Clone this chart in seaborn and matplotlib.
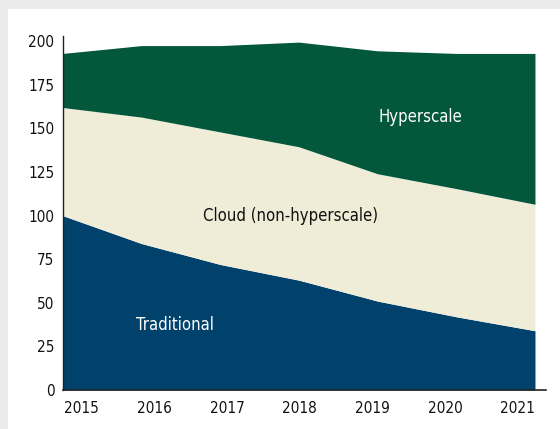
import numpy as np
import pandas as pd
import seaborn as sns
import matplotlib
matplotlib.use("Agg")
import matplotlib.pyplot as plt
from matplotlib.patches import Rectangle
from matplotlib import font_manager

years = [2015, 2016, 2017, 2018, 2019, 2020, 2021]
traditional = [100, 84, 72, 63, 51, 42, 34]
cloud = [62, 72.5, 76, 76.5, 73, 73.5, 72.5]
hyperscale = [31, 41, 49.5, 60, 70.5, 77.5, 86.5]
series_names = ["Traditional", "Cloud (non-hyperscale)", "Hyperscale"]
colors = ["#00426c", "#efedd8", "#03573a"]
yticks = [0, 25, 50, 75, 100, 125, 150, 175, 200]

df = pd.DataFrame({"year": years, "Traditional": traditional,
                   "Cloud (non-hyperscale)": cloud, "Hyperscale": hyperscale})

sns.set_theme(style="white")
plt.rcParams['font.family'] = ['DejaVu Sans']
plt.rcParams['font.stretch'] = 'condensed'

fig = plt.figure(figsize=(5.6, 4.29), dpi=100, facecolor="#ebebeb")
bg = Rectangle((8/560, 0), 1, 1 - 9/429, transform=fig.transFigure,
               facecolor="white", edgecolor="none", zorder=-10)
fig.add_artist(bg)
ax = fig.add_axes([62.7/560, 1 - 390/429, (546 - 62.7)/560, (390 - 36)/429])
ax.set_zorder(5)
ax.set_facecolor("none")

ax.stackplot(df["year"], df["Traditional"], df["Cloud (non-hyperscale)"], df["Hyperscale"],
             colors=colors, linewidth=0)

ax.set_xlim(2015, 2021.14)
ax.set_ylim(0, 203)
ax.set_yticks(yticks)
ax.set_yticklabels([str(v) for v in yticks], fontsize=11, color="#111111", fontstretch="condensed")
xt = np.linspace(2015.24, 2020.78, len(years))
ax.set_xticks(xt)
ax.set_xticklabels([str(y) for y in years], fontsize=11, color="#111111", fontstretch="condensed")
ax.tick_params(axis="both", length=0, pad=6)
ax.tick_params(axis="x", pad=8)

for s in ["top", "right"]:
    ax.spines[s].set_visible(False)
ax.spines["left"].set_color("#222222")
ax.spines["bottom"].set_color("#222222")
ax.spines["left"].set_linewidth(1)
ax.spines["bottom"].set_linewidth(1.2)

kw = dict(fontsize=12, ha="center", va="center", fontstretch="condensed")
ax.text(2019.54, 156.5, "Hyperscale", color="white", **kw)
ax.text(2017.89, 100, "Cloud (non-hyperscale)", color="#111111", **kw)
ax.text(2016.43, 37.4, "Traditional", color="white", **kw)

fig.savefig("out.png", dpi=100, facecolor=fig.get_facecolor())
